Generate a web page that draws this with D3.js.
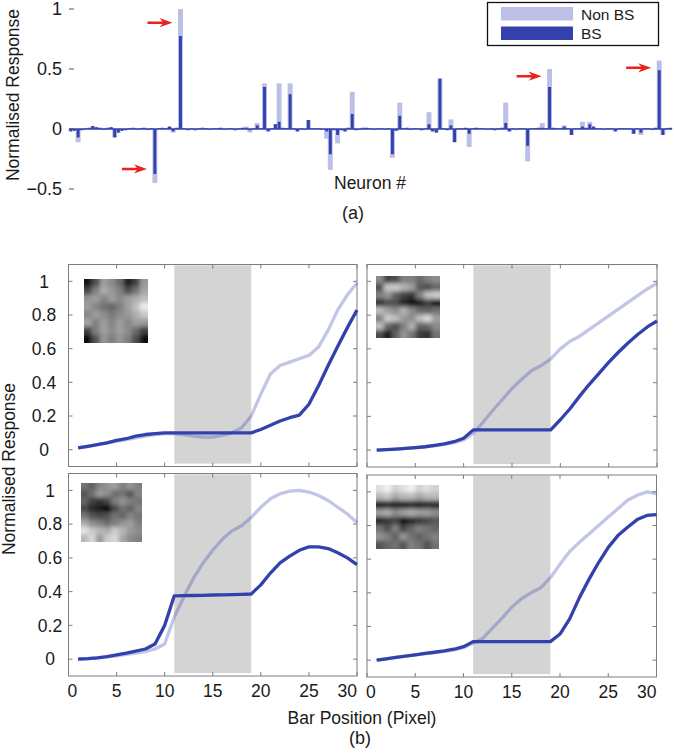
<!DOCTYPE html>
<html><head><meta charset="utf-8">
<script src="https://cdn.jsdelivr.net/npm/d3@7"></script>
<style>
body{margin:0;background:#fff;}
text{font-family:"Liberation Sans", Arial, Helvetica, sans-serif; fill:#1a1a1a;}
</style></head><body>
<svg id="chart" width="674" height="755"></svg>
<script>
// ===== DATA: (a) neuron responses =====
const bs = [
 -0.02,-0.015,-0.07,-0.01,0.005,0.01,0.025,0.015,0.01,-0.005,0.01,0.015,-0.07,-0.03,-0.015,
 -0.01,0.005,0.01,-0.005,0.005,0.01,-0.005,0.005,-0.375,0.005,0.01,0.005,0.02,-0.02,0.01,
 0.775,0.005,-0.01,0.005,-0.01,0.005,0.01,0.005,-0.005,0.005,0.005,0.01,-0.005,0.005,0.005,
 -0.01,0.005,0.01,0.01,-0.01,0.005,0.03,0.005,0.35,-0.02,0.005,0.04,0.06,0.01,0.005,
 0.29,0.005,-0.02,0.005,-0.005,0.075,0.005,0.005,0.005,-0.005,-0.02,-0.21,-0.01,-0.05,-0.01,
 -0.02,0.01,0.125,-0.01,-0.005,0.01,0.01,0.005,-0.005,0.005,0.005,-0.005,0.005,-0.21,-0.015,
 0.11,0.005,0.01,-0.005,0.005,0.005,-0.01,0.005,0.04,-0.02,-0.03,0.42,0.005,-0.01,0.03,
 -0.11,0.005,0.005,0.01,-0.04,0.005,0.01,0.005,0.005,-0.005,0.005,-0.01,0.005,0.01,0.05,
 -0.02,0.005,-0.005,0.005,0.005,-0.14,0.005,0.005,0.01,0.01,0.005,0.35,0.01,0.005,0.005,
 0.02,0.005,-0.05,0.005,0.005,0.02,0.01,0.04,0.02,0.005,0.005,-0.005,0.005,0.005,-0.02,
 0.005,0.005,0.005,0.005,-0.04,0.005,-0.03,0.005,0.005,-0.005,0.01,0.49,-0.05,0.005,0.01
];
const nonBS = [
 -0.02,-0.015,-0.11,-0.01,0.005,0.01,0.025,0.015,0.01,-0.005,0.01,0.015,-0.07,-0.03,-0.015,
 -0.01,0.005,0.01,-0.005,0.005,0.01,-0.005,0.005,-0.45,0.005,0.01,0.005,0.02,-0.03,0.01,
 1.0,0.005,-0.01,0.005,-0.01,0.005,0.01,0.005,-0.005,0.005,0.005,0.01,-0.005,0.005,0.005,
 -0.01,0.005,0.01,0.02,-0.03,0.005,0.05,0.005,0.38,-0.02,0.005,0.04,0.38,0.01,0.005,
 0.38,0.005,-0.02,0.005,-0.005,0.075,0.005,0.005,0.005,-0.005,-0.08,-0.34,-0.01,-0.12,-0.01,
 -0.02,0.01,0.31,-0.01,-0.005,0.01,0.01,0.005,-0.005,0.005,0.005,-0.005,0.005,-0.24,-0.015,
 0.22,0.005,0.01,-0.005,0.005,0.005,-0.01,0.005,0.14,-0.02,-0.03,0.42,0.005,-0.01,0.08,
 -0.11,0.005,0.005,0.01,-0.15,0.005,0.01,0.005,0.005,-0.005,0.005,-0.01,0.005,0.01,0.22,
 -0.02,0.005,-0.005,0.005,0.005,-0.27,0.005,0.005,0.01,0.05,0.005,0.5,0.01,0.005,0.005,
 0.03,0.005,-0.05,0.005,0.005,0.06,0.01,0.06,0.02,0.005,0.005,-0.005,0.005,0.005,-0.02,
 0.005,0.005,0.005,0.005,-0.04,0.005,-0.05,0.005,0.005,-0.005,0.01,0.57,-0.05,0.005,0.01
];
const arrowNeurons = [30, 23, 131, 161];
const arrowValues  = [0.886, -0.333, 0.44, 0.51];
const topTicks = [-0.5, 0, 0.5, 1];
const topTickLabels = ["\u22120.5", "0", "0.5", "1"];
const legendLabels = ["Non BS", "BS"];

// ===== DATA: (b) bar-position tuning curves =====
const barPos = [1,2,3,4,5,6,7,8,9,10,11,12,13,14,15,16,17,18,19,20,21,22,23,24,25,26,27,28,29,30];
const p1BS  = [0.01,0.02,0.03,0.04,0.055,0.065,0.08,0.09,0.095,0.1,0.1,0.1,0.1,0.1,0.1,0.1,0.1,0.1,0.1,0.12,0.145,0.17,0.19,0.205,0.27,0.38,0.5,0.615,0.725,0.83];
const p1Non = [0.01,0.02,0.03,0.04,0.05,0.06,0.07,0.08,0.09,0.095,0.095,0.09,0.08,0.075,0.075,0.085,0.1,0.13,0.2,0.33,0.45,0.5,0.52,0.54,0.56,0.61,0.71,0.83,0.92,0.99];
const p2BS  = [0,0.003,0.006,0.01,0.015,0.02,0.028,0.037,0.05,0.07,0.12,0.12,0.12,0.12,0.12,0.12,0.12,0.12,0.12,0.18,0.245,0.32,0.39,0.455,0.52,0.58,0.635,0.685,0.73,0.765];
const p2Non = [0,0.003,0.006,0.01,0.014,0.019,0.026,0.034,0.045,0.06,0.1,0.165,0.235,0.3,0.365,0.42,0.47,0.5,0.54,0.6,0.645,0.675,0.715,0.755,0.795,0.835,0.875,0.915,0.955,0.99];
const p3BS  = [0,0.003,0.008,0.015,0.025,0.035,0.047,0.06,0.09,0.2,0.375,0.376,0.377,0.378,0.38,0.381,0.382,0.384,0.386,0.44,0.51,0.57,0.61,0.645,0.665,0.665,0.655,0.63,0.6,0.56];
const p3Non = [0,0.003,0.008,0.013,0.02,0.028,0.036,0.045,0.06,0.09,0.25,0.37,0.48,0.57,0.645,0.71,0.76,0.79,0.84,0.9,0.95,0.98,0.995,1.0,0.99,0.97,0.94,0.9,0.86,0.81];
const p4BS  = [0,0.008,0.016,0.024,0.032,0.04,0.047,0.055,0.065,0.08,0.11,0.11,0.11,0.11,0.11,0.11,0.11,0.11,0.11,0.155,0.245,0.37,0.48,0.58,0.67,0.74,0.79,0.835,0.86,0.865];
const p4Non = [0,0.008,0.016,0.024,0.031,0.038,0.045,0.052,0.06,0.075,0.1,0.13,0.19,0.25,0.315,0.365,0.4,0.43,0.49,0.57,0.645,0.7,0.75,0.8,0.85,0.9,0.95,0.98,1.0,0.99];
const shadeRange = [11, 19];
const xTicksB = [0,5,10,15,20,25,30];
const yTicksB = [0,0.2,0.4,0.6,0.8,1];
const yTickLabelsB = ["0","0.2","0.4","0.6","0.8","1"];

// receptive field insets (grey level 0 = black, 1 = white)
const rf1 = [
 [0.08,0.3,0.62,0.55,0.42,0.12,0.25,0.6],
 [0.28,0.5,0.68,0.6,0.5,0.3,0.45,0.65],
 [0.58,0.62,0.52,0.62,0.55,0.62,0.68,0.75],
 [0.62,0.52,0.45,0.4,0.5,0.62,0.75,0.92],
 [0.52,0.62,0.55,0.48,0.55,0.6,0.68,0.78],
 [0.65,0.5,0.62,0.52,0.62,0.52,0.62,0.6],
 [0.25,0.5,0.62,0.55,0.62,0.55,0.42,0.25],
 [0.05,0.32,0.58,0.5,0.58,0.5,0.3,0.05]];
const rf2 = [
 [0.55,0.25,0.3,0.5,0.5,0.42,0.5,0.55],
 [0.3,0.78,0.8,0.7,0.62,0.35,0.3,0.4],
 [0.5,0.58,0.38,0.25,0.2,0.5,0.75,0.8],
 [0.2,0.3,0.3,0.15,0.05,0.1,0.25,0.05],
 [0.75,0.62,0.55,0.7,0.55,0.42,0.38,0.45],
 [0.5,0.8,0.75,0.6,0.55,0.75,0.85,0.62],
 [0.75,0.42,0.3,0.5,0.7,0.38,0.42,0.55],
 [0.3,0.1,0.38,0.58,0.45,0.25,0.2,0.45]];
const rf3 = [
 [0.45,0.38,0.52,0.58,0.62,0.5,0.58,0.5],
 [0.32,0.45,0.62,0.55,0.42,0.45,0.32,0.52],
 [0.4,0.25,0.2,0.28,0.5,0.58,0.5,0.45],
 [0.28,0.15,0.1,0.02,0.28,0.45,0.38,0.52],
 [0.45,0.32,0.28,0.32,0.45,0.38,0.52,0.45],
 [0.68,0.55,0.5,0.42,0.5,0.58,0.62,0.5],
 [0.9,0.78,0.72,0.68,0.8,0.72,0.6,0.55],
 [0.72,0.85,0.6,0.8,0.85,0.65,0.55,0.5]];
const rf4 = [
 [0.88,0.95,0.82,0.88,0.95,0.82,0.88,0.82],
 [0.72,0.78,0.65,0.72,0.72,0.65,0.72,0.72],
 [0.1,0.15,0.1,0.1,0.15,0.1,0.15,0.15],
 [0.62,0.68,0.55,0.62,0.68,0.62,0.62,0.55],
 [0.15,0.22,0.28,0.05,0.15,0.22,0.28,0.35],
 [0.45,0.32,0.5,0.28,0.4,0.5,0.45,0.4],
 [0.58,0.5,0.38,0.58,0.45,0.38,0.45,0.5],
 [0.32,0.4,0.45,0.32,0.5,0.45,0.32,0.45]];

// ===== DRAW =====
const svg = d3.select('#chart');
const dark = '#3341ad';
const light = '#bcc0e6';
const red = '#e8231f';

// ---------- (a) ----------
const xA = d3.scaleBand().domain(d3.range(bs.length)).range([69, 672]).padding(0);
const yA = d3.scaleLinear().domain([-0.5, 1]).range([189, 9]);
const bw = xA.bandwidth();
const gA = svg.append('g');

gA.selectAll('rect.nb').data(nonBS).join('rect').attr('class','nb')
  .attr('x', (d,i) => xA(i) + bw/2 - bw*0.68)
  .attr('width', bw*1.36)
  .attr('y', d => yA(Math.max(0,d)))
  .attr('height', d => Math.abs(yA(d) - yA(0)))
  .attr('fill', light);
gA.append('line').attr('x1',69).attr('x2',672).attr('y1',yA(0)).attr('y2',yA(0))
  .attr('stroke', dark).attr('stroke-width',1.3);
gA.selectAll('rect.b').data(bs).join('rect').attr('class','b')
  .attr('x', (d,i) => xA(i) + bw/2 - bw*0.4)
  .attr('width', bw*0.8)
  .attr('y', d => yA(Math.max(0,d)))
  .attr('height', d => Math.abs(yA(d) - yA(0)))
  .attr('fill', dark);

topTicks.forEach((t,i) => {
  gA.append('line').attr('x1',69).attr('x2',74).attr('y1',yA(t)).attr('y2',yA(t))
    .attr('stroke','#555').attr('stroke-width',1);
  gA.append('text').attr('x',62).attr('y',yA(t)).attr('dy','0.36em')
    .attr('text-anchor','end').attr('font-size',18).text(topTickLabels[i]);
});
gA.append('text').attr('transform','translate(19,95) rotate(-90)')
  .attr('text-anchor','middle').attr('font-size',17.5).text('Normalised Response');
gA.append('text').attr('x',370).attr('y',189).attr('text-anchor','middle')
  .attr('font-size',17.5).text('Neuron #');
svg.append('text').attr('x',353).attr('y',219).attr('text-anchor','middle')
  .attr('font-size',18).text('(a)');

// arrows
arrowNeurons.forEach((n,i) => {
  const tx = xA(n) + bw/2 - 8, ty = yA(arrowValues[i]);
  const pts = [[0,0],[-13,-4.6],[-10,-1.2],[-25,-1.2],[-25,1.2],[-10,1.2],[-13,4.6]];
  gA.append('polygon').attr('points', pts.map(p => (tx+p[0])+','+(ty+p[1])).join(' '))
    .attr('fill', red);
});

// legend
const lg = svg.append('g');
lg.append('rect').attr('x',487.5).attr('y',2.5).attr('width',171).attr('height',43)
  .attr('fill','#fff').attr('stroke','#111').attr('stroke-width',1.3);
[light, dark].forEach((c,i) => {
  lg.append('rect').attr('x',501).attr('y',7 + i*19.5).attr('width',72).attr('height',13.5).attr('fill',c);
  lg.append('text').attr('x',581).attr('y',19.5 + i*19.5).attr('font-size',15.5).text(legendLabels[i]);
});

// ---------- (b) ----------
const panels = [
  {x0:68.5, x1:357, y0:264.5, y1:466.5, bsv:p1BS, nbv:p1Non, rf:rf1, inset:[84,279,64,64], left:true,  bottom:false, ylx:44},
  {x0:367,  x1:657, y0:264.5, y1:467,   bsv:p2BS, nbv:p2Non, rf:rf2, inset:[376,276,64,62], left:false, bottom:false},
  {x0:68.5, x1:357, y0:473.5, y1:676,   bsv:p3BS, nbv:p3Non, rf:rf3, inset:[81,483,61,59], left:true,  bottom:true, ylx:50},
  {x0:367,  x1:656.5, y0:475, y1:677,   bsv:p4BS, nbv:p4Non, rf:rf4, inset:[376,485,63,64], left:false, bottom:true}
];
const defs = svg.append('defs');
defs.append('filter').attr('id','blur').attr('x','-20%').attr('y','-20%').attr('width','140%').attr('height','140%')
  .append('feGaussianBlur').attr('stdDeviation',2.0);

panels.forEach((p,k) => {
  const x = d3.scaleLinear().domain([0,30]).range([p.x0, p.x1]);
  const y = d3.scaleLinear().domain([-0.1,1.1]).range([p.y1, p.y0]);
  const g = svg.append('g');
  g.append('rect').attr('x', x(shadeRange[0])).attr('width', x(shadeRange[1]) - x(shadeRange[0]))
    .attr('y', y(1.095)).attr('height', y(-0.083) - y(1.095)).attr('fill','#d4d4d4');
  const [ix,iy,iw,ih] = p.inset;
  defs.append('clipPath').attr('id','clip'+k).append('rect')
    .attr('x',ix).attr('y',iy).attr('width',iw).attr('height',ih);
  const n = p.rf.length;
  const cx = d3.scaleBand().domain(d3.range(n)).range([ix, ix+iw]);
  const cy = d3.scaleBand().domain(d3.range(n)).range([iy, iy+ih]);
  const ig = g.append('g').attr('clip-path','url(#clip'+k+')').append('g').attr('filter','url(#blur)');
  const cells = [];
  p.rf.forEach((row,r) => row.forEach((v,c) => cells.push({r,c,v})));
  ig.selectAll('rect').data(cells).join('rect')
    .attr('x', d => cx(d.c) - (d.c===0 ? 8 : 0.3))
    .attr('y', d => cy(d.r) - (d.r===0 ? 8 : 0.3))
    .attr('width', d => cx.bandwidth() + 0.6 + (d.c===0 ? 8 : 0) + (d.c===n-1 ? 8 : 0))
    .attr('height', d => cy.bandwidth() + 0.6 + (d.r===0 ? 8 : 0) + (d.r===n-1 ? 8 : 0))
    .attr('fill', d => d3.rgb(d.v*255, d.v*255, d.v*255));
  g.append('rect').attr('x',p.x0).attr('y',p.y0).attr('width',p.x1-p.x0).attr('height',p.y1-p.y0)
    .attr('fill','none').attr('stroke','#7d7d7d').attr('stroke-width',1);
  xTicksB.forEach(t => {
    g.append('line').attr('x1',x(t)).attr('x2',x(t)).attr('y1',p.y1).attr('y2',p.y1-4).attr('stroke','#7d7d7d');
    g.append('line').attr('x1',x(t)).attr('x2',x(t)).attr('y1',p.y0).attr('y2',p.y0+4).attr('stroke','#7d7d7d');
  });
  yTicksB.forEach(t => {
    g.append('line').attr('x1',p.x0).attr('x2',p.x0+4).attr('y1',y(t)).attr('y2',y(t)).attr('stroke','#7d7d7d');
    g.append('line').attr('x1',p.x1).attr('x2',p.x1-4).attr('y1',y(t)).attr('y2',y(t)).attr('stroke','#7d7d7d');
  });
  const line = vals => d3.line().x((d,i) => x(barPos[i])).y(d => y(d))(vals);
  g.append('path').attr('d', line(p.nbv)).attr('fill','none').attr('stroke',dark)
    .attr('stroke-opacity',0.3).attr('stroke-width',3.3).attr('stroke-linejoin','round');
  g.append('path').attr('d', line(p.bsv)).attr('fill','none').attr('stroke',dark)
    .attr('stroke-width',3.3).attr('stroke-linejoin','round');
  if (p.left) {
    yTicksB.forEach((t,i) => {
      g.append('text').attr('x',p.ylx).attr('y',y(t)).attr('dy','0.36em').attr('text-anchor','middle')
        .attr('font-size',17.5).text(yTickLabelsB[i]);
    });
  }
  if (p.bottom) {
    xTicksB.forEach((t,i) => {
      const anchor = i===0 ? 'start' : (i===xTicksB.length-1 ? 'end' : 'middle');
      g.append('text').attr('x', x(t) + (i===0 ? -1 : 0)).attr('y', p.y1 + 21).attr('text-anchor',anchor)
        .attr('font-size',17.5).text(t);
    });
  }
});
svg.append('text').attr('transform','translate(15,469) rotate(-90)')
  .attr('text-anchor','middle').attr('font-size',17.5).text('Normalised Response');
svg.append('text').attr('x',362).attr('y',724).attr('text-anchor','middle')
  .attr('font-size',17.5).text('Bar Position (Pixel)');
svg.append('text').attr('x',360).attr('y',744).attr('text-anchor','middle')
  .attr('font-size',18).text('(b)');
</script>
</body></html>
